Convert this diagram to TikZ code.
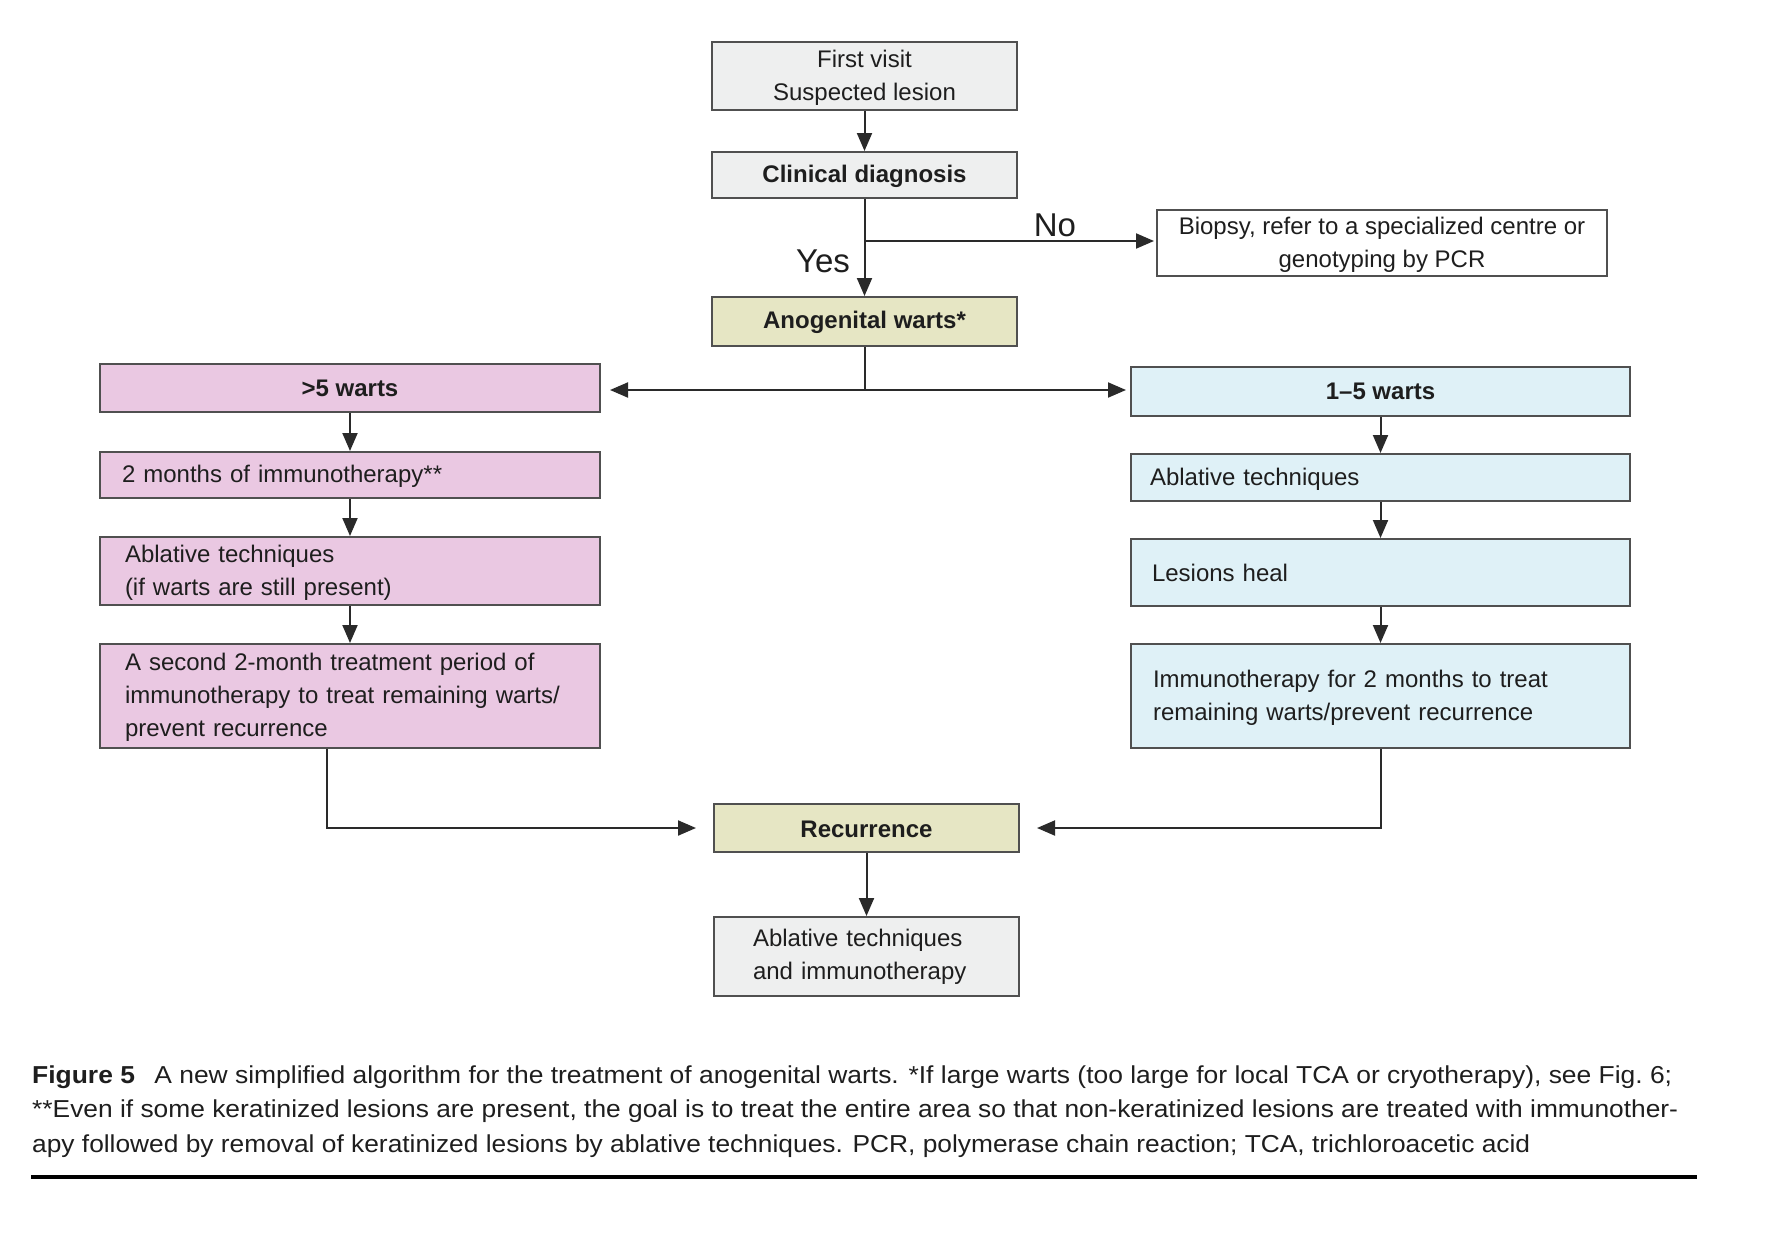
\documentclass[tikz,border=0pt]{standalone}
\usepackage{fontspec}
\setmainfont{Liberation Sans}
\usepackage{graphicx}
\usetikzlibrary{arrows.meta}
\definecolor{grayfill}{HTML}{EEEFEF}
\definecolor{yelfill}{HTML}{E6E6C4}
\definecolor{pinkfill}{HTML}{EAC8E2}
\definecolor{bluefill}{HTML}{DFF1F7}
\definecolor{bordc}{HTML}{505050}
\definecolor{linec}{HTML}{2A2A2A}
\definecolor{txtc}{HTML}{1E1E1E}
\newcommand{\boxfont}{\fontsize{24}{33}\selectfont}
\begin{document}
\begin{tikzpicture}[x=1pt,y=-1pt,
  box/.style={draw=bordc, line width=2pt, inner sep=0pt, align=center,
    font=\boxfont, text=txtc},
  bbox/.style={box, font=\boxfont\bfseries},
  lbox/.style={box, align=left},
  conn/.style={draw=linec, line width=2pt},
  arr/.style={conn, -{Triangle[length=18pt,width=15pt]}},
  lab/.style={font=\fontsize{33}{36}\selectfont, text=txtc, inner sep=0pt},
  captext/.style={anchor=base west, inner sep=0pt, text=txtc, font=\fontsize{24.5}{34}\selectfont}
]
\useasboundingbox (0,0) rectangle (1776,1234);

% top column
\node[box, fill=grayfill, minimum width=305pt, minimum height=68pt] (fv) at (864.5,76) {\rule{0pt}{20pt}First visit\\Suspected lesion};
\node[bbox, fill=grayfill, minimum width=305pt, minimum height=46pt] (cd) at (864.5,175) {\rule{0pt}{20pt}Clinical diagnosis};
\node[box, fill=white, minimum width=450pt, minimum height=66pt] (bio) at (1382,243) {\rule{0pt}{20pt}Biopsy, refer to a specialized centre or\\genotyping by PCR};
\node[bbox, fill=yelfill, minimum width=305pt, minimum height=49pt] (ag) at (864.5,321.5) {\rule{0pt}{20pt}Anogenital warts*};

% left column
\node[bbox, fill=pinkfill, minimum width=500pt, minimum height=48pt] (g5) at (350,388) {>5 warts};
\node[lbox, fill=pinkfill, text width=456pt, inner xsep=22pt, minimum height=46pt] (m2) at (350,475) {\rule{0pt}{20pt}2 months of immunotherapy**};
\node[lbox, fill=pinkfill, text width=450pt, inner xsep=25pt, minimum height=68pt] (abl) at (350,571) {\rule{0pt}{20pt}Ablative techniques\\(if warts are still present)};
\node[lbox, fill=pinkfill, text width=450pt, inner xsep=25pt, minimum height=104pt] (sec) at (350,696) {\rule{0pt}{20pt}A second 2-month treatment period of\\immunotherapy to treat remaining warts/\\prevent recurrence};

% right column
\node[bbox, fill=bluefill, minimum width=499pt, minimum height=49pt] (w15) at (1380.5,391.5) {1\textendash5 warts};
\node[lbox, fill=bluefill, text width=461pt, inner xsep=19pt, minimum height=47pt] (abr) at (1380.5,477.5) {\rule{0pt}{20pt}Ablative techniques};
\node[lbox, fill=bluefill, text width=457pt, inner xsep=21pt, minimum height=67pt] (lh) at (1380.5,572.5) {Lesions heal};
\node[lbox, fill=bluefill, text width=455pt, inner xsep=22pt, minimum height=104pt] (imm) at (1380.5,696) {\rule{0pt}{20pt}Immunotherapy for 2 months to treat\\remaining warts/prevent recurrence};

% bottom
\node[bbox, fill=yelfill, minimum width=305pt, minimum height=48pt] (rec) at (866.5,828) {\rule{0pt}{20pt}Recurrence};
\node[lbox, fill=grayfill, text width=227pt, inner xsep=39pt, minimum height=79pt] (fin) at (866.5,956.5) {Ablative techniques\\and immunotherapy};

% labels
\node[lab] (yes) at (823,261) {Yes};
\node[lab] (no) at (1055,225) {No};

% connectors
\draw[arr] (fv.south) -- (cd.north);
\draw[arr] (cd.south) -- (ag.north);
\coordinate (br) at (864.5,241);
\draw[arr] (br) -- ([xshift=-2pt]br -| bio.west);
\coordinate (split) at (864.5,390);
\draw[conn] (ag.south) -- (split);
\draw[arr] (split) -- ([xshift=9pt]split -| g5.east);
\draw[arr] (split) -- ([xshift=-4pt]split -| w15.west);
\draw[arr] (g5.south) -- (m2.north);
\draw[arr] (m2.south) -- (abl.north);
\draw[arr] (abl.south) -- (sec.north);
\draw[arr] (w15.south) -- (abr.north);
\draw[arr] (abr.south) -- (lh.north);
\draw[arr] (lh.south) -- (imm.north);
\coordinate (lc) at (327,828);
\coordinate (rc) at (1381,828);
\draw[arr] (sec.south -| lc) -- (lc) -- ([xshift=-17pt]rec.west);
\draw[arr] (imm.south -| rc) -- (rc) -- ([xshift=17pt]rec.east);
\draw[arr] (rec.south) -- (fin.north);

% caption
\node[captext] (c1) at (32,1083) {\resizebox{1640pt}{\height}{\textbf{Figure 5}\hspace{18pt}A new simplified algorithm for the treatment of anogenital warts. *If large warts (too large for local TCA or cryotherapy), see Fig.\ 6;}};
\node[captext] (c2) at (32,1117) {\resizebox{1646pt}{\height}{**Even if some keratinized lesions are present, the goal is to treat the entire area so that non-keratinized lesions are treated with immunother-}};
\node[captext] (c3) at (32,1152) {\resizebox{1498pt}{\height}{apy followed by removal of keratinized lesions by ablative techniques. PCR, polymerase chain reaction; TCA, trichloroacetic acid}};
\coordinate (rl) at (31,1177);
\coordinate (rr) at (1697,1177);
\draw[line width=4pt, black] (rl) -- (rr);
\end{tikzpicture}
\end{document}
